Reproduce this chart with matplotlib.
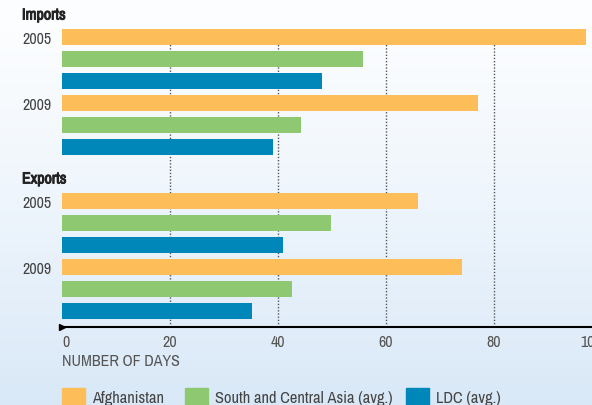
import numpy as np
import matplotlib
matplotlib.use("Agg")
import matplotlib.pyplot as plt
import matplotlib.patheffects as pe
from matplotlib import font_manager
from matplotlib.patches import Rectangle

# look for a narrow font, fall back to DejaVu Sans
entries = font_manager.fontManager.ttflist
family = 'DejaVu Sans'
for f in entries:
    if 'Narrow' in f.name or 'Condensed' in f.name:
        family = f.name
        break
has_bold = any(f.name == family and isinstance(f.weight, int) and f.weight >= 600
               for f in entries) or any(f.name == family and str(f.weight) == 'bold'
                                        for f in entries)
plt.rcParams['font.family'] = [family, 'DejaVu Sans']

sections = ["Imports", "Exports"]
years = ["2005", "2009"]
series = ["Afghanistan", "South and Central Asia (avg.)", "LDC (avg.)"]
colors = ["#FDBE59", "#8EC870", "#0087B9"]

# days, per section: [2005, 2009]
imports_afg = [97, 77]
imports_sca = [55.7, 44.2]
imports_ldc = [48.1, 39.0]
exports_afg = [66, 74]
exports_sca = [49.8, 42.5]
exports_ldc = [40.9, 35.1]

data = {
    "Imports": [imports_afg, imports_sca, imports_ldc],
    "Exports": [exports_afg, exports_sca, exports_ldc],
}
section_offset = [0, 7.45]
xticks = [0, 20, 40, 60, 80, 100]

W, H = 592, 405
fig = plt.figure(figsize=(W / 100, H / 100), dpi=100)

# background gradient
bg = fig.add_axes([0, 0, 1, 1], zorder=-5)
top = np.array([0.99, 0.995, 1.0])
bot = np.array([0.85, 0.91, 0.97])
t = np.linspace(0, 1, 256)[:, None]
grad = top + (bot - top) * t ** 1.3
bg.imshow(grad[:, None, :], aspect='auto', extent=[0, 1, 0, 1])
bg.axis('off')

ax_top, ax_bot = 28, 327
ax = fig.add_axes([62 / W, 1 - ax_bot / H, 540 / W, (ax_bot - ax_top) / H])
ax.patch.set_visible(False)

s_top = (ax_top - 37) / 22
s_bot = (ax_bot - 37) / 22
ax.set_ylim(s_bot, s_top)
ax.set_xlim(0, 100)

fs = 11.5 if family != 'DejaVu Sans' else 9.5

if has_bold:
    sec_kw = dict(fontweight='bold')
else:
    sec_kw = dict(path_effects=[pe.withStroke(linewidth=0.7, foreground='#222222')])

ytr = ax.get_yaxis_transform()
for si, sec in enumerate(sections):
    off = section_offset[si]
    ax.text(-40 / 540, off - 1.0, sec, transform=ytr, ha='left', va='center',
            fontsize=fs, color='#222222', clip_on=False, **sec_kw)
    for yi, yr in enumerate(years):
        base = off + yi * 3
        ax.text(-40 / 540, base + 0.1, yr, transform=ytr, ha='left', va='center',
                fontsize=fs, color='#444444', clip_on=False)
        for k in range(3):
            ax.barh(base + k, data[sec][k][yi], height=0.74, color=colors[k],
                    zorder=3, clip_on=False)

for x in xticks[1:-1]:
    ax.axvline(x, color='#555555', linestyle=(0, (1, 1.3)), linewidth=1.0, zorder=1)

for sp in ['top', 'right', 'left']:
    ax.spines[sp].set_visible(False)
ax.spines['bottom'].set_color('black')
ax.spines['bottom'].set_linewidth(1.5)
ax.plot([0], [s_bot], marker='>', color='black', markersize=5, clip_on=False, zorder=5)

ax.set_yticks([])
ax.set_xticks(xticks)
ax.set_xticklabels([str(x) for x in xticks])
ax.tick_params(axis='x', length=0, pad=6, labelsize=fs, labelcolor='#555555')
labels = ax.get_xticklabels()
labels[0].set_horizontalalignment('left')
labels[-1].set_horizontalalignment('right')

fig.text(62 / W, 1 - 362 / H, "NUMBER OF DAYS", ha='left', va='center',
         fontsize=fs, color='#555555')

# legend
sw_x = [62, 185, 406]
for k in range(3):
    fig.add_artist(Rectangle((sw_x[k] / W, 0), 23 / W, 17 / H, transform=fig.transFigure,
                             color=colors[k], clip_on=False))
    fig.text((sw_x[k] + 30) / W, 1 - 399 / H, series[k], ha='left', va='center',
             fontsize=fs + 0.3, color='#444444')

fig.savefig("out.png", dpi=100)
